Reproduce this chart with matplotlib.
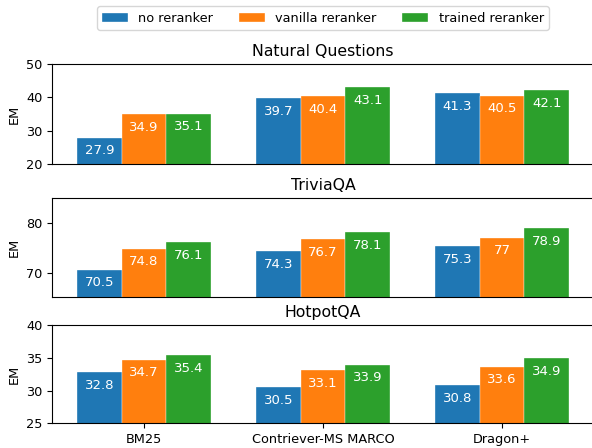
import matplotlib
matplotlib.use("Agg")
import matplotlib.pyplot as plt
import numpy as np

retrievers = ["BM25", "Contriever-MS MARCO", "Dragon+"]
series_names = ["no reranker", "vanilla reranker", "trained reranker"]
colors = ["#1f77b4", "#ff7f0e", "#2ca02c"]

datasets = ["Natural Questions", "TriviaQA", "HotpotQA"]
nq_scores = [[27.9, 39.7, 41.3], [34.9, 40.4, 40.5], [35.1, 43.1, 42.1]]
tqa_scores = [[70.5, 74.3, 75.3], [74.8, 76.7, 77], [76.1, 78.1, 78.9]]
hqa_scores = [[32.8, 30.5, 30.8], [34.7, 33.1, 33.6], [35.4, 33.9, 34.9]]
all_scores = [nq_scores, tqa_scores, hqa_scores]

y_limits = [(20, 50), (65, 85), (25, 40)]
y_ticks = [[20, 30, 40, 50], [70, 80], [25, 30, 35, 40]]

fig = plt.figure(figsize=(5.92, 4.48), dpi=100)
W, H = 592, 448
left_px, right_px = 52.3, 593.7
axes_px = [(64.3, 163.7), (198.2, 297.3), (325.0, 423.3)]

x = np.arange(len(retrievers))
width = 0.25
axes = []
for i, (top, bot) in enumerate(axes_px):
    ax = fig.add_axes([left_px / W, 1 - bot / H, (right_px - left_px) / W, (bot - top) / H])
    axes.append(ax)
    for j, name in enumerate(series_names):
        vals = all_scores[i][j]
        bars = ax.bar(x + (j - 1) * width, vals, width, color=colors[j],
                      edgecolor="white", linewidth=0.25, label=name)
        ax.bar_label(bars, labels=[f"{v:g}" for v in vals], padding=-14,
                     color="white", fontsize=9.5)
    ax.set_ylim(*y_limits[i])
    ax.set_yticks(y_ticks[i])
    ax.set_xlim(-0.5125, 2.5125)
    ax.set_title(datasets[i], fontsize=11.3)
    ax.set_ylabel("EM", fontsize=9.3)
    ax.tick_params(axis="both", labelsize=9.3)
    if i < 2:
        ax.set_xticks([])
    else:
        ax.set_xticks(x)
        ax.set_xticklabels(retrievers)

handles, labels = axes[0].get_legend_handles_labels()
fig.legend(handles, labels, loc="upper center", ncol=3, fontsize=9.3,
           bbox_to_anchor=(323 / W, 1.0), frameon=True)

fig.savefig("out.png", dpi=100)
